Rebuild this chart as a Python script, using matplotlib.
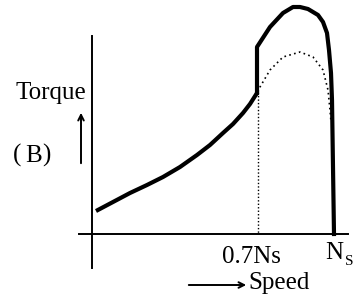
import matplotlib.pyplot as plt

# Curve points, in picture units (x to the right, y downward)
solid_low_x = [96, 113, 130, 147, 163, 180, 197, 210, 223, 233, 243, 250, 257]
solid_low_y = [211, 202, 193, 185, 177, 167, 155, 145, 133, 124, 113, 104, 93]
solid_high_x = [257, 257, 270, 283, 293, 300, 308, 318, 323, 327, 329, 331, 332, 334]
solid_high_y = [93, 47, 27, 13, 7, 7, 9, 15, 22, 33, 50, 73, 100, 234]
dotted_x = [258, 260, 270, 283, 300, 313, 323, 328, 330, 331]
dotted_y = [92, 87, 70, 57, 52, 57, 70, 90, 110, 122]
split_x = 258
split_y = 92
axis_x0 = 92
axis_y0 = 234

plt.rcParams["font.family"] = ["Liberation Serif", "DejaVu Serif"]
FS = 18

fig = plt.figure(figsize=(3.61, 2.95), dpi=100)
ax = fig.add_axes([0, 0, 1, 1])
ax.set_xlim(0, 361)
ax.set_ylim(295, 0)
ax.axis("off")

# axes
ax.plot([axis_x0, axis_x0], [36, 268], color="black", lw=1.4)
ax.plot([79, 348], [axis_y0, axis_y0], color="black", lw=1.4)

# curves
ax.plot(solid_low_x, solid_low_y, color="black", lw=3, solid_capstyle="butt")
ax.plot(solid_high_x, solid_high_y, color="black", lw=3, solid_joinstyle="round")
ax.plot(dotted_x, dotted_y, color="black", lw=1.2, linestyle=(0, (1, 2)))
ax.plot([split_x, split_x], [split_y, axis_y0], color="black", lw=1.0,
        linestyle=(0, (1, 1.5)))

# labels
ax.text(15, 99, "Torque", fontsize=FS, ha="left", va="baseline")
ax.annotate("", xy=(81, 110), xytext=(81, 166),
            arrowprops=dict(arrowstyle="->", lw=1.4, color="black"))
ax.text(13, 162, "(", fontsize=FS, ha="left", va="baseline")
ax.text(25, 162, "B", fontsize=FS, ha="left", va="baseline")
ax.text(42, 162, ")", fontsize=FS, ha="left", va="baseline")
ax.text(222, 263, "0.7Ns", fontsize=FS, ha="left", va="baseline")
ax.text(325, 259, "N", fontsize=FS, ha="left", va="baseline")
ax.text(345, 265, "S", fontsize=11, ha="left", va="baseline")
ax.annotate("", xy=(249, 285), xytext=(186, 285),
            arrowprops=dict(arrowstyle="->", lw=1.4, color="black"))
ax.text(248, 289, "Speed", fontsize=FS, ha="left", va="baseline")

fig.savefig("out.png", dpi=100)
